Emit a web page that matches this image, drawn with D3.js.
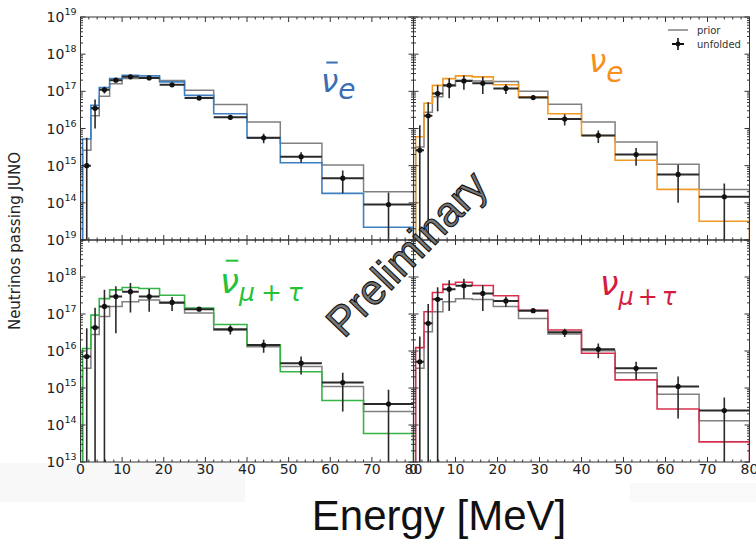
<!DOCTYPE html>
<html>
<head>
<meta charset="utf-8">
<script src="https://cdn.jsdelivr.net/npm/d3@7"></script>
<style>
  html, body { margin: 0; padding: 0; background: #fff; }
  svg { display: block; }
</style>
</head>
<body>
<svg id="chart" width="756" height="540"></svg>
<script>
// Energy bin edges [MeV], shared by all four flavour panels
const binEdges = [0.5, 2.5, 4.5, 7, 10, 14, 19, 25, 32, 40, 48, 58, 68, 80];

// anti-nu_e
const antiNueTrue     = [5.2e15, 4.2e16, 1.26e17, 2.2e17, 2.7e17, 2.6e17, 1.8e17, 7.8e16, 2.5e16, 5.6e15, 1.2e15, 1.8e14, 2.2e13];
const antiNuePrior    = [2.6e15, 2.2e16, 7.4e16, 1.6e17, 2.2e17, 2.3e17, 1.95e17, 1.07e17, 4.4e16, 1.5e16, 4.0e15, 1.05e15, 2.0e14];
const antiNueUnfolded = [1.0e15, 3.5e16, 1.1e17, 2.0e17, 2.45e17, 2.3e17, 1.5e17, 6.6e16, 2.0e16, 5.6e15, 1.75e15, 4.6e14, 9.0e13];
const antiNueError    = [4.6e15, 2.5e16, 2.2e16, 1.4e16, 1.5e16, 1.5e16, 1.6e16, 6e15, 3e15, 1.6e15, 5.5e14, 2.8e14, 1.0e14];

// nu_e
const nueTrue     = [6.0e15, 4.8e16, 1.45e17, 2.2e17, 2.6e17, 2.45e17, 1.5e17, 7.1e16, 2.5e16, 6.5e15, 1.4e15, 2.3e14, 3.2e13];
const nuePrior    = [3.2e15, 2.75e16, 7.1e16, 1.4e17, 2.0e17, 1.9e17, 1.85e17, 1.0e17, 4.5e16, 1.5e16, 4.3e15, 1.1e15, 2.3e14];
const nueUnfolded = [2.6e15, 2.2e16, 8.7e16, 1.45e17, 1.9e17, 1.65e17, 1.2e17, 6.8e16, 1.8e16, 6.5e15, 2.0e15, 5.8e14, 1.45e14];
const nueError    = [9.6e15, 2.9e16, 5.8e16, 8e16, 8e16, 8e16, 3.5e16, 8e15, 6e15, 2.4e15, 1.0e15, 4.8e14, 1.85e14];

// anti-nu_mu + anti-nu_tau
const antiNumuTrue     = [1.17e16, 9.3e16, 2.6e17, 4.5e17, 5.2e17, 4.9e17, 3.2e17, 1.45e17, 5.2e16, 1.45e16, 2.75e15, 4.6e14, 5.9e13];
const antiNumuPrior    = [3.4e15, 2.8e16, 8.5e16, 1.6e17, 2.15e17, 2.4e17, 1.95e17, 1.07e17, 3.7e16, 1.3e16, 3.8e15, 1.1e15, 2.3e14];
const antiNumuUnfolded = [7.1e15, 4.3e16, 1.6e17, 2.95e17, 4.0e17, 2.95e17, 2.05e17, 1.35e17, 3.9e16, 1.45e16, 4.7e15, 1.4e15, 3.7e14];
const antiNumuError    = [3.4e16, 1.05e17, 2.9e17, 2.65e17, 2.9e17, 1.8e17, 8.5e16, 1.2e16, 1.1e16, 5.5e15, 2.4e15, 1.17e15, 5.2e14];

// nu_mu + nu_tau
const numuTrue     = [1.23e16, 1.15e17, 3.8e17, 6.3e17, 7.2e17, 5.9e17, 3.1e17, 1.26e17, 3.7e16, 8.7e15, 1.66e15, 2.7e14, 3.5e13];
const numuPrior    = [3.4e15, 3.3e16, 1.15e17, 2.15e17, 2.6e17, 2.45e17, 1.6e17, 7.6e16, 2.9e16, 1.02e16, 2.6e15, 6.8e14, 1.3e14];
const numuUnfolded = [5.1e15, 5.6e16, 2.5e17, 4.7e17, 5.8e17, 3.6e17, 2.25e17, 1.23e17, 3.2e16, 1.12e16, 3.4e15, 1.1e15, 2.45e14];
const numuError    = [1.95e16, 1.3e17, 2.75e17, 3.5e17, 3.2e17, 2.4e17, 7e16, 1.2e16, 8e15, 4.8e15, 1.7e15, 9.5e14, 3.05e14];

// Axis domains and tick labels
const energyDomain = [0, 80];
const fluxDomain = [1e13, 1e19];
const energyTickLabels = [0, 10, 20, 30, 40, 50, 60, 70, 80];
const topExponents = [14, 15, 16, 17, 18, 19];
const bottomExponents = [13, 14, 15, 16, 17, 18, 19];

const panels = [
  { col: 0, row: 0, truth: antiNueTrue,  prior: antiNuePrior,  unf: antiNueUnfolded,  err: antiNueError,
    color: "#3e7fc1", labelColor: "#3a6fb3", label: { x: 321, y: 92, size: 31, bar: true, sub: ["e"], subSize: 28, subDy: 7, gap: 3 } },
  { col: 1, row: 0, truth: nueTrue,      prior: nuePrior,      unf: nueUnfolded,      err: nueError,
    color: "#f39a26", labelColor: "#f5901a", label: { x: 589, y: 72, size: 31, bar: false, sub: ["e"], subSize: 28, subDy: 10, gap: 3 } },
  { col: 0, row: 1, truth: antiNumuTrue, prior: antiNumuPrior, unf: antiNumuUnfolded, err: antiNumuError,
    color: "#35b547", labelColor: "#25c238", label: { x: 220, y: 293, size: 34, bar: true, sub: ["μ", "+", "τ"], subSize: 25, subDy: 8, gap: 6 } },
  { col: 1, row: 1, truth: numuTrue,     prior: numuPrior,     unf: numuUnfolded,     err: numuError,
    color: "#d8304e", labelColor: "#d41c40", label: { x: 600, y: 295, size: 33, bar: false, sub: ["μ", "+", "τ"], subSize: 24, subDy: 10, gap: 4 } }
];

const colX = [[80.5, 413.5], [413.5, 749.5]];
const rowY = [[240, 17], [462, 240]];
const axisFont = "DejaVu Sans";
const frameColor = "#333";

const svg = d3.select("#chart");

// faint backdrop patches behind the lower corners
svg.append("rect").attr("x", 0).attr("y", 463).attr("width", 245).attr("height", 39).attr("fill", "#f8f8f8");
svg.append("rect").attr("x", 630).attr("y", 483).attr("width", 126).attr("height", 19).attr("fill", "#f9f9f9");

const defs = svg.append("defs");

panels.forEach((p, pi) => {
  const x = d3.scaleLinear().domain(energyDomain).range(colX[p.col]);
  const y = d3.scaleLog().domain(fluxDomain).range(rowY[p.row]);
  const [x0, x1] = x.range();
  const [yB, yT] = y.range();

  const clipId = "clip" + pi;
  defs.append("clipPath").attr("id", clipId)
    .append("rect").attr("x", x0).attr("y", yT).attr("width", x1 - x0).attr("height", yB - yT);

  const g = svg.append("g");
  const plot = g.append("g").attr("clip-path", `url(#${clipId})`);

  // closed step outline of a histogram, dropping to the axis floor at both ends
  const stepPoints = vals => {
    const pts = [[binEdges[0], fluxDomain[0]]];
    vals.forEach((v, i) => { pts.push([binEdges[i], v]); pts.push([binEdges[i + 1], v]); });
    pts.push([binEdges[binEdges.length - 1], fluxDomain[0]]);
    return pts;
  };
  const line = d3.line().x(d => x(d[0])).y(d => y(d[1]));

  plot.append("path").attr("d", line(stepPoints(p.prior)))
    .attr("fill", "none").attr("stroke", "#808080").attr("stroke-width", 1.5);
  plot.append("path").attr("d", line(stepPoints(p.truth)))
    .attr("fill", "none").attr("stroke", p.color).attr("stroke-width", 1.6);

  // unfolded spectrum: bin-wide horizontal bars, vertical error bars, dot markers
  const unf = p.unf.map((v, i) => ({
    v, lo: p.unf[i] - p.err[i], hi: p.unf[i] + p.err[i],
    e0: binEdges[i], e1: binEdges[i + 1], c: (binEdges[i] + binEdges[i + 1]) / 2
  }));
  const yClamp = v => v > fluxDomain[0] ? y(v) : yB + 2;
  plot.selectAll(".xerr").data(unf).join("line")
    .attr("x1", d => x(d.e0)).attr("x2", d => x(d.e1))
    .attr("y1", d => y(d.v)).attr("y2", d => y(d.v))
    .attr("stroke", "#2a2a2a").attr("stroke-width", 2);
  plot.selectAll(".yerr").data(unf).join("line")
    .attr("x1", d => x(d.c)).attr("x2", d => x(d.c))
    .attr("y1", d => yClamp(d.lo)).attr("y2", d => y(d.hi))
    .attr("stroke", "#2a2a2a").attr("stroke-width", 1.6);
  plot.selectAll(".pt").data(unf).join("circle")
    .attr("cx", d => x(d.c)).attr("cy", d => y(d.v)).attr("r", 2.6).attr("fill", "#111");

  // frame
  g.append("rect").attr("x", x0).attr("y", yT).attr("width", x1 - x0).attr("height", yB - yT)
    .attr("fill", "none").attr("stroke", frameColor).attr("stroke-width", 1);

  // inward ticks on all four sides
  const ticks = g.append("g").attr("stroke", frameColor).attr("stroke-width", 1);
  x.ticks(40).forEach(t => {
    const len = t % 10 === 0 ? 5 : 2.5;
    const px = x(t);
    ticks.append("line").attr("x1", px).attr("x2", px).attr("y1", yB).attr("y2", yB - len);
    ticks.append("line").attr("x1", px).attr("x2", px).attr("y1", yT).attr("y2", yT + len);
  });
  y.ticks().forEach(t => {
    const mant = Math.round(t / Math.pow(10, Math.floor(Math.log10(t) + 1e-9)));
    const len = mant === 1 ? 5 : 2.5;
    const py = y(t);
    ticks.append("line").attr("x1", x0).attr("x2", x0 + len).attr("y1", py).attr("y2", py);
    ticks.append("line").attr("x1", x1).attr("x2", x1 - len).attr("y1", py).attr("y2", py);
  });

  // y tick labels on the left column only
  if (p.col === 0) {
    const exps = p.row === 0 ? topExponents : bottomExponents;
    exps.forEach(k => {
      const t = g.append("text").attr("x", x0 - 4).attr("y", y(Math.pow(10, k)) + 5)
        .attr("text-anchor", "end").attr("font-family", axisFont).attr("font-size", 14).attr("fill", "#222");
      t.append("tspan").text("10");
      t.append("tspan").attr("font-size", 9.5).attr("dy", -7).text(k);
    });
  }
  // x tick labels on the bottom row only
  if (p.row === 1) {
    energyTickLabels.forEach(v => {
      g.append("text").attr("x", x(v)).attr("y", yB + 12)
        .attr("text-anchor", "middle").attr("font-family", axisFont).attr("font-size", 14)
        .attr("fill", "#222").text(v);
    });
  }

  // flavour label
  const L = p.label;
  const lab = g.append("text").attr("x", L.x).attr("y", L.y).attr("fill", p.labelColor)
    .attr("font-family", axisFont).attr("font-size", L.size);
  lab.append("tspan").attr("font-style", "italic").text("ν");
  L.sub.forEach((s, i) => {
    const ts = lab.append("tspan").attr("font-size", L.subSize).text(s);
    if (i === 0) ts.attr("dy", L.subDy);
    else ts.attr("dx", L.gap);
    if (s !== "+") ts.attr("font-style", "italic");
  });
  if (L.bar) {
    g.append("line")
      .attr("x1", L.x + 0.17 * L.size).attr("x2", L.x + 0.54 * L.size)
      .attr("y1", L.y - 0.95 * L.size).attr("y2", L.y - 0.95 * L.size)
      .attr("stroke", p.labelColor).attr("stroke-width", 2);
  }
});

// legend (top-right panel)
const leg = svg.append("g").attr("font-family", axisFont).attr("font-size", 10).attr("fill", "#333");
leg.append("line").attr("x1", 668).attr("x2", 688).attr("y1", 30).attr("y2", 30)
  .attr("stroke", "#808080").attr("stroke-width", 1.5);
leg.append("text").attr("x", 697).attr("y", 34).text("prior");
leg.append("line").attr("x1", 672).attr("x2", 684).attr("y1", 44).attr("y2", 44).attr("stroke", "#111").attr("stroke-width", 2);
leg.append("line").attr("x1", 678).attr("x2", 678).attr("y1", 38).attr("y2", 50).attr("stroke", "#111").attr("stroke-width", 1.6);
leg.append("circle").attr("cx", 678).attr("cy", 44).attr("r", 2.4).attr("fill", "#111");
leg.append("text").attr("x", 697).attr("y", 48).text("unfolded");

// axis titles
svg.append("text").attr("transform", "translate(20,241) rotate(-90)")
  .attr("text-anchor", "middle").attr("font-family", axisFont).attr("font-size", 15)
  .attr("fill", "#222").text("Neutrinos passing JUNO");
svg.append("text").attr("x", 439).attr("y", 530).attr("text-anchor", "middle")
  .attr("font-family", "Liberation Sans").attr("font-size", 42).attr("fill", "#111")
  .text("Energy [MeV]");

// watermark
svg.append("text").attr("transform", "translate(409,256) rotate(-46)")
  .attr("text-anchor", "middle").attr("dominant-baseline", "middle")
  .attr("font-family", "Liberation Sans").attr("font-size", 42)
  .attr("fill", "#787878").attr("stroke", "#111").attr("stroke-width", 1.1)
  .text("Preliminary");
</script>
</body>
</html>
